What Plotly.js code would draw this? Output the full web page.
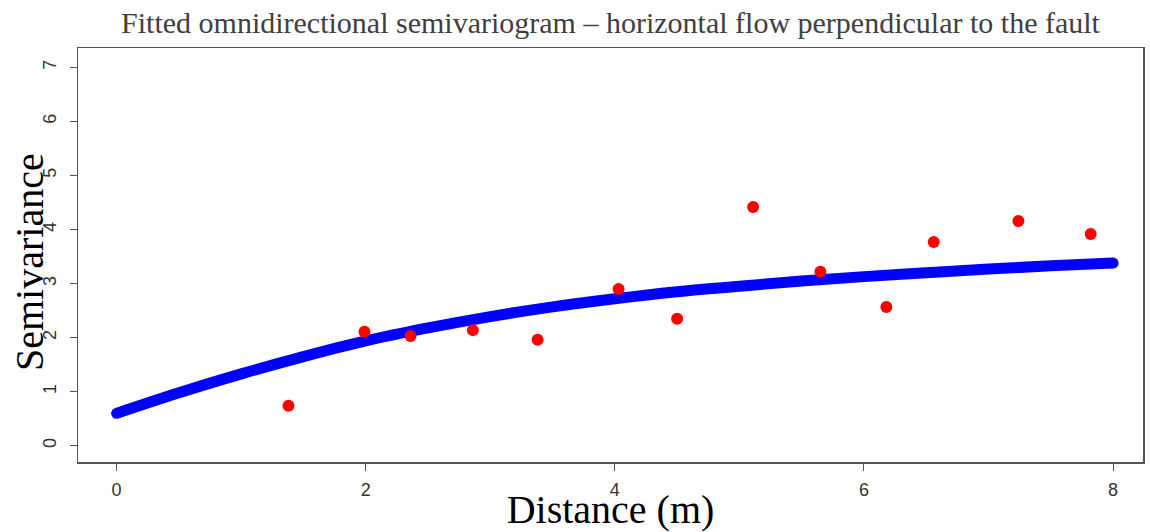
<!DOCTYPE html>
<html>
<head>
<meta charset="utf-8">
<script src="https://cdn.plot.ly/plotly-3.0.1.min.js"></script>
<style>html,body{margin:0;padding:0;background:#fff;}#chart{width:1150px;height:532px;}</style>
</head>
<body>
<div id="chart"></div>
<script>
// Empirical semivariogram points
const lagDistance = [1.38, 1.99, 2.36, 2.86, 3.38, 4.03, 4.50, 5.11, 5.65, 6.18, 6.56, 7.24, 7.82];
const semivariance = [0.74, 2.11, 2.03, 2.14, 1.96, 2.90, 2.35, 4.42, 3.22, 2.57, 3.77, 4.16, 3.92];
// Fitted model curve
const modelDistance = [0, 0.5, 1, 1.5, 2, 2.5, 3, 3.5, 4, 4.5, 5, 5.5, 6, 6.5, 7, 7.5, 8];
const modelSemivariance = [0.60, 0.98, 1.33, 1.65, 1.94, 2.18, 2.39, 2.57, 2.72, 2.85, 2.95, 3.05, 3.13, 3.20, 3.27, 3.33, 3.38];
const xTicks = [0, 2, 4, 6, 8];
const yTicks = [0, 1, 2, 3, 4, 5, 6, 7];

const serif = '"Liberation Serif", "Times New Roman", serif';
const sans = '"Liberation Sans", Arial, sans-serif';

const traces = [
  {
    x: modelDistance, y: modelSemivariance, mode: 'lines', type: 'scatter',
    line: {color: '#0000ff', width: 11, shape: 'spline'},
    hoverinfo: 'skip', showlegend: false
  },
  {
    x: [modelDistance[0], modelDistance[modelDistance.length - 1]],
    y: [modelSemivariance[0], modelSemivariance[modelSemivariance.length - 1]],
    mode: 'markers', type: 'scatter',
    marker: {color: '#0000ff', size: 11},
    hoverinfo: 'skip', showlegend: false
  },
  {
    x: lagDistance, y: semivariance, mode: 'markers', type: 'scatter',
    marker: {color: '#ff0000', size: 12},
    showlegend: false
  }
];

const layout = {
  width: 1150, height: 532,
  margin: {l: 78, r: 7, t: 48, b: 70},
  paper_bgcolor: '#ffffff', plot_bgcolor: '#ffffff',
  title: {
    text: 'Fitted omnidirectional semivariogram – horizontal flow perpendicular to the fault',
    font: {family: serif, size: 30, color: '#404040'},
    x: 0.5, xref: 'paper', xanchor: 'center', y: 0.958, yanchor: 'middle', yref: 'container'
  },
  xaxis: {
    range: [-0.31, 8.24],
    tickvals: xTicks, ticktext: xTicks.map(String),
    ticks: 'outside', ticklen: 7, tickcolor: '#555', tickwidth: 1,
    ticklabelstandoff: 4,
    tickfont: {family: sans, size: 18, color: '#333'},
    showline: true, mirror: true, linecolor: '#555', linewidth: 1.5,
    showgrid: false, zeroline: false,
    title: {text: 'Distance (m)', font: {family: serif, size: 40, color: '#000'}, standoff: 0}
  },
  yaxis: {
    range: [-0.30, 7.36],
    tickvals: yTicks, ticktext: yTicks.map(String),
    tickangle: -90,
    ticks: 'outside', ticklen: 7, tickcolor: '#555', tickwidth: 1,
    ticklabelstandoff: 6,
    tickfont: {family: sans, size: 18, color: '#333'},
    showline: true, mirror: true, linecolor: '#555', linewidth: 1.5,
    showgrid: false, zeroline: false
  },
  annotations: [{
    text: 'Semivariance', textangle: -90,
    xref: 'paper', yref: 'paper', x: 0, y: 0.5,
    xanchor: 'center', yanchor: 'middle', xshift: -49, yshift: -7,
    showarrow: false,
    font: {family: serif, size: 40, color: '#000'}
  }]
};

Plotly.newPlot('chart', traces, layout, {displayModeBar: false, staticPlot: true});
</script>
</body>
</html>
